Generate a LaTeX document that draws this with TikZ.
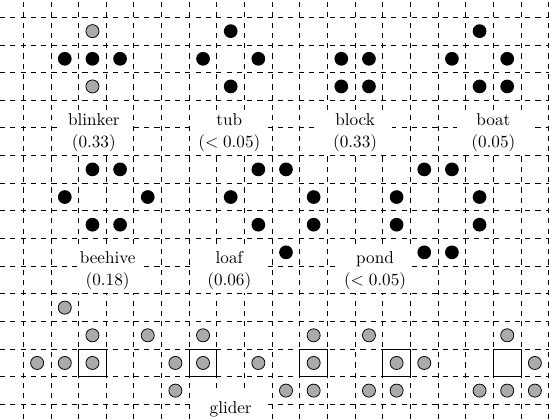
\documentclass[tikz,border=0pt]{standalone}
\usetikzlibrary{calc}
\definecolor{cellgray}{RGB}{170,170,170}
\tikzset{
  gridline/.style={dashed, line width=0.5pt, black},
  lbl/.style={fill=white, inner sep=0pt, minimum width=42.5pt, minimum height=25.8pt,
              align=center, font=\fontsize{10}{13}\selectfont},
  onelbl/.style={fill=white, inner xsep=0pt, minimum width=42.5pt, minimum height=20pt,
              font=\fontsize{10}{13}\selectfont},
  phasebox/.style={draw=black, line width=0.6pt},
  livecell/.style={fill=black},
  ghostcell/.style={fill=cellgray, draw=black, line width=0.45pt}
}
\newcommand\blkcell[2]{\path[livecell] (#1+0.5,#2+0.5) circle[radius=4pt];}
\newcommand\grycell[2]{\path[ghostcell] (#1+0.5,#2+0.5) circle[radius=3.8pt];}
\begin{document}
\begin{tikzpicture}[x=0.5663cm,y=-0.5663cm]
\useasboundingbox (-0.843,-0.626) rectangle (19.011,14.528);
% dashed grid
\foreach \i in {0,...,19} \draw[gridline] (\i,14.528) -- (\i,-0.626);
\foreach \j in {0,...,14} \draw[gridline] (-0.843,\j) -- (19.011,\j);
% labels
\node[lbl] (blinker) at (2.55,4.145) {\strut blinker\\\strut(0.33)};
\node[lbl] (tub) at (7.45,4.145) {\strut tub\\\strut$(<0.05)$};
\node[lbl] (block) at (12.0,4.145) {\strut block\\\strut(0.33)};
\node[lbl] (boat) at (17.0,4.145) {\strut boat\\\strut(0.05)};
\node[lbl, minimum width=36pt] (beehive) at (3.05,9.15) {\strut beehive\\\strut(0.18)};
\node[lbl] (loaf) at (7.45,9.15) {\strut loaf\\\strut(0.06)};
\node[lbl] (pond) at (12.72,9.15) {\strut pond\\\strut$(<0.05)$};
\node[onelbl, anchor=base] (glider) at (7.5,14.31) {glider};
% blinker
\grycell{2}{0}\grycell{2}{2}
\blkcell{1}{1}\blkcell{2}{1}\blkcell{3}{1}
% tub
\blkcell{7}{0}\blkcell{6}{1}\blkcell{8}{1}\blkcell{7}{2}
% block
\blkcell{11}{1}\blkcell{12}{1}\blkcell{11}{2}\blkcell{12}{2}
% boat
\blkcell{16}{0}\blkcell{15}{1}\blkcell{17}{1}\blkcell{16}{2}\blkcell{17}{2}
% beehive
\blkcell{2}{5}\blkcell{3}{5}\blkcell{1}{6}\blkcell{4}{6}\blkcell{2}{7}\blkcell{3}{7}
% loaf
\blkcell{8}{5}\blkcell{9}{5}\blkcell{7}{6}\blkcell{10}{6}\blkcell{8}{7}\blkcell{10}{7}\blkcell{9}{8}
% pond
\blkcell{14}{5}\blkcell{15}{5}\blkcell{13}{6}\blkcell{16}{6}\blkcell{13}{7}\blkcell{16}{7}\blkcell{14}{8}\blkcell{15}{8}
% glider phases
\grycell{1}{10}\grycell{2}{11}\grycell{0}{12}\grycell{1}{12}\grycell{2}{12}
\grycell{4}{11}\grycell{6}{11}\grycell{5}{12}\grycell{6}{12}\grycell{5}{13}
\grycell{10}{11}\grycell{8}{12}\grycell{10}{12}\grycell{9}{13}\grycell{10}{13}
\grycell{12}{11}\grycell{13}{12}\grycell{14}{12}\grycell{12}{13}\grycell{13}{13}
\grycell{17}{11}\grycell{18}{12}\grycell{16}{13}\grycell{17}{13}\grycell{18}{13}
% reference squares
\foreach \i in {2,6,10,13,17} \draw[phasebox] (\i,12) rectangle (\i+1,13);
\end{tikzpicture}
\end{document}
